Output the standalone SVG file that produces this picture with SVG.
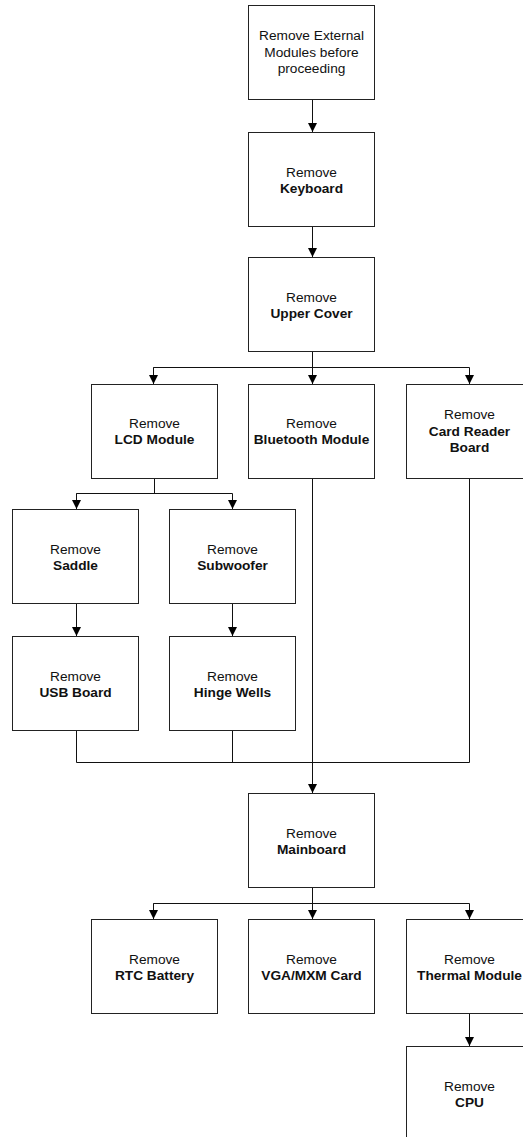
<svg xmlns="http://www.w3.org/2000/svg" width="523" height="1137" viewBox="0 0 523 1137">
<style>
.box{fill:#fff;stroke:#222;stroke-width:1}
.ln{fill:none;stroke:#111;stroke-width:1}
text{font-family:"Liberation Sans",Arial,sans-serif;font-size:13.7px;fill:#111;text-anchor:middle}
.b{font-weight:bold}
</style>
<defs>
<marker id="ah" viewBox="0 0 10 10" refX="10" refY="5" markerWidth="9" markerHeight="9" markerUnits="userSpaceOnUse" orient="auto">
<path d="M0,0 L10,5 L0,10 Z" fill="#000"/>
</marker>
</defs>
<rect width="523" height="1137" fill="#fff"/>
<g id="connectors">
<path class="ln" d="M312.5,99 V132" marker-end="url(#ah)"/>
<path class="ln" d="M312.5,227 V257" marker-end="url(#ah)"/>
<path class="ln" d="M312.5,352 V384" marker-end="url(#ah)"/>
<path class="ln" d="M153.5,384 V367.5 H469.5 V384" marker-end="url(#ah)"/>
<path class="ln" d="M153.5,367.5 V384" marker-end="url(#ah)"/>
<path class="ln" d="M154.5,478 V493.5"/>
<path class="ln" d="M76.5,509 V493.5 H232.5 V509" marker-end="url(#ah)"/>
<path class="ln" d="M76.5,493.5 V509" marker-end="url(#ah)"/>
<path class="ln" d="M76.5,604 V636" marker-end="url(#ah)"/>
<path class="ln" d="M232.5,604 V636" marker-end="url(#ah)"/>
<path class="ln" d="M76.5,731 V762.5 H469.5 V478"/>
<path class="ln" d="M232.5,731 V762.5"/>
<path class="ln" d="M312.5,478 V793" marker-end="url(#ah)"/>
<path class="ln" d="M312.5,888 V919" marker-end="url(#ah)"/>
<path class="ln" d="M153.5,919 V903.5 H469.5 V919" marker-end="url(#ah)"/>
<path class="ln" d="M153.5,903.5 V919" marker-end="url(#ah)"/>
<path class="ln" d="M469.5,1014 V1046" marker-end="url(#ah)"/>
</g>
<g id="n-external"><rect class="box" x="248.5" y="5.5" width="126" height="94"/><text x="311.5" y="40">Remove External</text><text x="311.5" y="57">Modules before</text><text x="311.5" y="73">proceeding</text></g>
<g id="n-keyboard"><rect class="box" x="248.5" y="132.5" width="126" height="94"/><text x="311.5" y="177">Remove</text><text class="b" x="311.5" y="193">Keyboard</text></g>
<g id="n-uppercover"><rect class="box" x="248.5" y="257.5" width="126" height="94"/><text x="311.5" y="302">Remove</text><text class="b" x="311.5" y="318">Upper Cover</text></g>
<g id="n-lcd"><rect class="box" x="91.5" y="384.5" width="126" height="94"/><text x="154.5" y="428">Remove</text><text class="b" x="154.5" y="444">LCD Module</text></g>
<g id="n-bluetooth"><rect class="box" x="248.5" y="384.5" width="126" height="94"/><text x="311.5" y="428">Remove</text><text class="b" x="311.5" y="444">Bluetooth Module</text></g>
<g id="n-cardreader"><rect class="box" x="406.5" y="384.5" width="126" height="94"/><text x="469.5" y="419">Remove</text><text class="b" x="469.5" y="436">Card Reader</text><text class="b" x="469.5" y="452">Board</text></g>
<g id="n-saddle"><rect class="box" x="12.5" y="509.5" width="126" height="94"/><text x="75.5" y="554">Remove</text><text class="b" x="75.5" y="570">Saddle</text></g>
<g id="n-subwoofer"><rect class="box" x="169.5" y="509.5" width="126" height="94"/><text x="232.5" y="554">Remove</text><text class="b" x="232.5" y="570">Subwoofer</text></g>
<g id="n-usb"><rect class="box" x="12.5" y="636.5" width="126" height="94"/><text x="75.5" y="681">Remove</text><text class="b" x="75.5" y="697">USB Board</text></g>
<g id="n-hinge"><rect class="box" x="169.5" y="636.5" width="126" height="94"/><text x="232.5" y="681">Remove</text><text class="b" x="232.5" y="697">Hinge Wells</text></g>
<g id="n-mainboard"><rect class="box" x="248.5" y="793.5" width="126" height="94"/><text x="311.5" y="838">Remove</text><text class="b" x="311.5" y="854">Mainboard</text></g>
<g id="n-rtc"><rect class="box" x="91.5" y="919.5" width="126" height="94"/><text x="154.5" y="964">Remove</text><text class="b" x="154.5" y="980">RTC Battery</text></g>
<g id="n-vga"><rect class="box" x="248.5" y="919.5" width="126" height="94"/><text x="311.5" y="964">Remove</text><text class="b" x="311.5" y="980">VGA/MXM Card</text></g>
<g id="n-thermal"><rect class="box" x="406.5" y="919.5" width="126" height="94"/><text x="469.5" y="964">Remove</text><text class="b" x="469.5" y="980">Thermal Module</text></g>
<g id="n-cpu"><rect class="box" x="406.5" y="1046.5" width="126" height="94"/><text x="469.5" y="1091">Remove</text><text class="b" x="469.5" y="1107">CPU</text></g>
</svg>
